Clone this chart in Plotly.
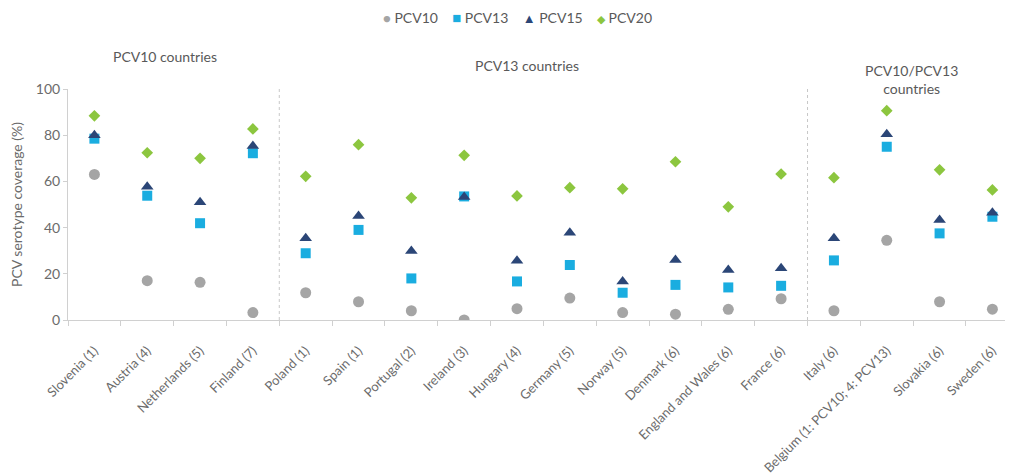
import plotly.graph_objects as go

COUNTRIES = [
    "Slovenia (1)", "Austria (4)", "Netherlands (5)", "Finland (7)",
    "Poland (1)", "Spain (1)", "Portugal (2)", "Ireland (3)", "Hungary (4)",
    "Germany (5)", "Norway (5)", "Denmark (6)", "England and Wales (6)", "France (6)",
    "Italy (6)", "Belgium (1: PCV10; 4: PCV13)", "Slovakia (6)", "Sweden (6)",
]
PCV10 = [63, 17, 16.3, 3.2, 11.8, 7.9, 4, 0, 4.9, 9.5, 3.2, 2.5, 4.6, 9.2, 4, 34.5, 7.9, 4.7]
PCV13 = [78.5, 53.8, 41.9, 72.2, 28.9, 39, 18, 53.5, 16.7, 23.8, 11.8, 15.2, 14.1, 14.8, 25.8, 75, 37.5, 44.7]
PCV15 = [80, 57.7, 51, 75.3, 35.4, 45, 29.9, 53.2, 25.7, 37.8, 16.7, 26, 21.6, 22.4, 35.4, 80.4, 43.3, 46.4]
PCV20 = [88.4, 72.4, 70, 82.7, 62.2, 75.9, 52.9, 71.3, 53.7, 57.3, 56.8, 68.5, 49, 63.2, 61.6, 90.6, 65, 56.3]

GROUPS = ["PCV10 countries", "PCV13 countries", "PCV10/PCV13<br>countries"]

SERIES = [
    ("PCV10", PCV10, "circle", "#A5A5A5", 11, "●", 13),
    ("PCV13", PCV13, "square", "#1AADE0", 10, "■", 15),
    ("PCV15", PCV15, "triangle-up", "#2B4677", 11, "▲", 13),
    ("PCV20", PCV20, "diamond", "#8CC63F", 9, "◆", 11),
]

GREY = "#6b6b6b"
NB = "\u00a0"

fig = go.Figure()
for name, vals, sym, col, size, _, _ in SERIES:
    fig.add_trace(go.Scatter(
        x=COUNTRIES, y=vals, mode="markers", name=name, showlegend=False,
        marker={"symbol": sym, "color": col, "size": size, "line": {"width": 0}},
    ))

# compact legend as one line of text (plotly's own legend leaves too big gaps)
legend_text = (NB * 4).join(
    f'<span style="color:{col};font-size:{gsize}px">{glyph}</span>{NB}{name}'
    for name, _, _, col, _, glyph, gsize in SERIES
)
fig.add_annotation(text=legend_text, x=0.476, y=1.31, xref="paper", yref="paper",
                   showarrow=False, xanchor="center", yanchor="middle",
                   font={"size": 14, "color": "#595959"})

# dotted dividers between groups
for xpos in (3.5, 13.5):
    fig.add_shape(type="line", xref="x", yref="paper", x0=xpos, x1=xpos, y0=0, y1=1,
                  line={"color": "#c8c8c8", "width": 1, "dash": "dot"})

for text, xpos, ypos in zip(GROUPS, (1.33, 8.18, 15.47), (1.14, 1.10, 1.04)):
    fig.add_annotation(text=text, x=xpos, y=ypos, xref="x", yref="paper", showarrow=False,
                       yanchor="middle", font={"size": 14, "color": "#595959"})

# page body adds 8px offset, so figure is a bit smaller than the window
fig.update_layout(
    width=1005, height=467,
    paper_bgcolor="white", plot_bgcolor="white",
    font={"family": "Lato", "color": GREY, "size": 13},
    margin={"l": 60, "r": 0, "t": 81, "b": 155},
)
fig.update_xaxes(
    type="category", range=[-0.5, 17.39], tickangle=-45, automargin=False,
    showline=True, linecolor="#d0d0d0", linewidth=1,
    ticks="outside", tickson="boundaries", ticklen=5, tickcolor="#d0d0d0",
    ticklabelstandoff=17,
    showgrid=False, tickfont={"size": 13, "color": GREY},
)
fig.update_yaxes(
    range=[0, 100], dtick=20, showgrid=False, zeroline=False, automargin=False,
    showline=True, linecolor="#d0d0d0", linewidth=1,
    ticks="outside", ticklen=4, tickcolor="#d0d0d0",
    title={"text": "PCV serotype coverage (%)", "font": {"size": 14, "color": GREY}, "standoff": 11},
    tickfont={"size": 14, "color": GREY},
)

fig.write_html("out.html")
